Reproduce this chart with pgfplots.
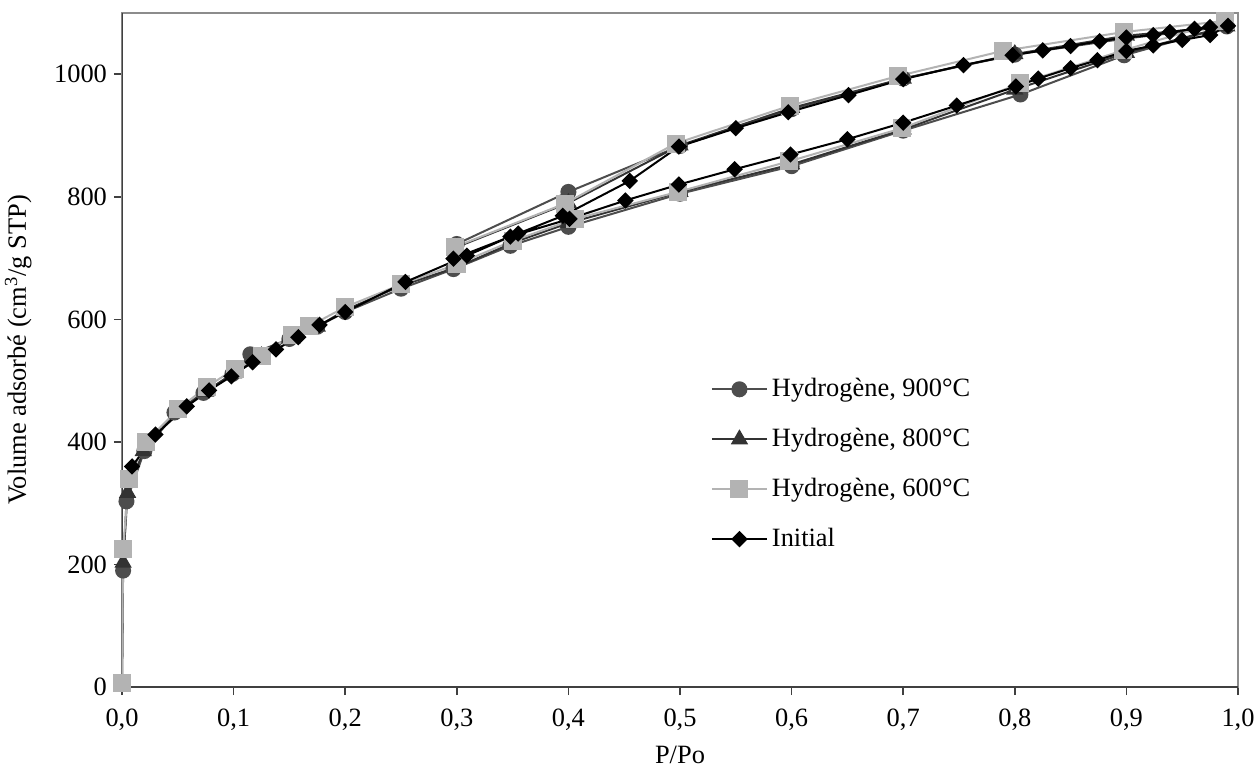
\documentclass[border=0pt]{standalone}
\usepackage{fontspec}
\setmainfont{Liberation Serif}
\usepackage{pgfplots}
\pgfplotsset{compat=1.18}
\definecolor{cnine}{HTML}{4D4D4D}
\definecolor{ceight}{HTML}{333333}
\definecolor{csix}{HTML}{B3B3B3}
\definecolor{frame}{HTML}{8C8C8C}
\definecolor{darkaxis}{HTML}{404040}
\begin{document}
\begin{tikzpicture}[font=\fontsize{13.2}{15.8}\selectfont]
\path[use as bounding box] (-61pt,-42pt) rectangle (568pt,343.5pt);
\begin{axis}[
  at={(0,0)}, anchor=south west, scale only axis,
  width=558pt, height=337pt,
  xmin=0, xmax=1, ymin=0, ymax=1100,
  xtick={0,0.1,0.2,0.3,0.4,0.5,0.6,0.7,0.8,0.9,1.0},
  ytick={0,200,400,600,800,1000},
  xtick pos=bottom, ytick pos=left,
  tick align=outside, major tick length=4pt,
  every tick/.style={darkaxis, line width=0.8pt},
  axis line style={frame, line width=1pt},
  /pgf/number format/assume math mode=true,
  xticklabel style={yshift=-3.5pt, /pgf/number format/.cd, fixed, fixed zerofill, precision=1, use comma},
  yticklabel style={/pgf/number format/1000 sep={}},
  xlabel={P/Po}, ylabel={Volume adsorbé (cm\textsuperscript{3}/g STP)},
  xlabel style={at={(axis description cs:0.5,-0.101)}, anchor=center},
  ylabel style={at={(axis description cs:-0.093,0.5)}, anchor=center, rotate=0},
  legend image code/.code={\draw[mark repeat=2,mark phase=2] plot coordinates {(0pt,0pt) (13.75pt,0pt) (27.5pt,0pt)};},
  legend style={at={(0.522,0.47)}, anchor=north west, draw=none, fill=none, row sep=10.3pt, font=\fontsize{13.2}{15.8}\selectfont},
  legend cell align=left,
]
\draw[darkaxis, line width=1pt] (rel axis cs:0,1) -- (rel axis cs:0,0) -- (rel axis cs:1,0);
% Hydrogene 900
\addplot[cnine, line width=1pt, mark=*, mark size=3.5pt, mark options={fill=cnine, draw=cnine}] coordinates {
(0,5) (0.001,190) (0.004,303) (0.02,385) (0.047,448) (0.073,480) (0.099,511) (0.115,543)
(0.15,568) (0.175,588) (0.2,612) (0.25,650) (0.297,682) (0.348,720) (0.4,751)
(0.5,805) (0.6,850) (0.7,908) (0.805,967) (0.898,1031) (0.99,1078)
(0.898,1058) (0.8,1032) (0.7,993) (0.6,943) (0.5,883) (0.4,808) (0.3,723)
};
\addlegendentry{Hydrogène, 900°C}
% Hydrogene 800
\addplot[ceight, line width=1pt, mark=triangle*, mark size=4pt, mark options={fill=ceight, draw=ceight}] coordinates {
(0,5) (0.001,203) (0.005,317) (0.019,385) (0.05,450) (0.075,482) (0.1,512) (0.125,540)
(0.15,570) (0.175,588) (0.2,615) (0.25,655) (0.3,685) (0.35,725) (0.4,757)
(0.5,808) (0.6,853) (0.7,910) (0.8,975) (0.9,1035) (0.99,1078)
(0.9,1063) (0.8,1033) (0.7,993) (0.6,945) (0.5,884) (0.4,790) (0.3,718)
};
\addlegendentry{Hydrogène, 800°C}
% Hydrogene 600
\addplot[csix, line width=1pt, mark=square*, mark size=4pt, mark options={fill=csix, draw=csix}] coordinates {
(0,6) (0.001,225) (0.006,339) (0.0215,400) (0.05,453) (0.076,490) (0.101,519) (0.125,540)
(0.152,575) (0.168,589) (0.2,620) (0.25,657) (0.3,690) (0.35,728) (0.406,764)
(0.498,808) (0.598,858) (0.699,912) (0.805,985) (0.897,1039) (0.988,1087)
(0.898,1069) (0.789,1038) (0.695,997) (0.599,949) (0.496,887) (0.397,789) (0.298,718)
};
\addlegendentry{Hydrogène, 600°C}
% Initial
\addplot[black, line width=1pt, mark=square*, mark size=2.4pt, mark options={fill=black, draw=black, rotate=45}] coordinates {
(0.009,360) (0.030,412) (0.058,458) (0.078,484) (0.098,507) (0.117,530) (0.138,551)
(0.158,571) (0.177,591) (0.200,612) (0.254,661) (0.309,704) (0.348,735) (0.401,764)
(0.451,794) (0.499,820) (0.549,845) (0.599,869) (0.650,894) (0.700,921) (0.748,949)
(0.801,980) (0.821,993) (0.850,1010) (0.874,1023) (0.900,1038) (0.924,1047) (0.950,1056)
(0.975,1064) (0.991,1079)
(0.975,1077) (0.961,1074) (0.939,1069) (0.924,1064) (0.900,1060) (0.876,1054) (0.850,1046)
(0.825,1039) (0.798,1031) (0.754,1015) (0.700,992) (0.651,966) (0.597,938) (0.550,912)
(0.499,882) (0.455,826) (0.395,769) (0.355,740) (0.297,699)
};
\addlegendentry{Initial}
\end{axis}
\end{tikzpicture}
\end{document}
